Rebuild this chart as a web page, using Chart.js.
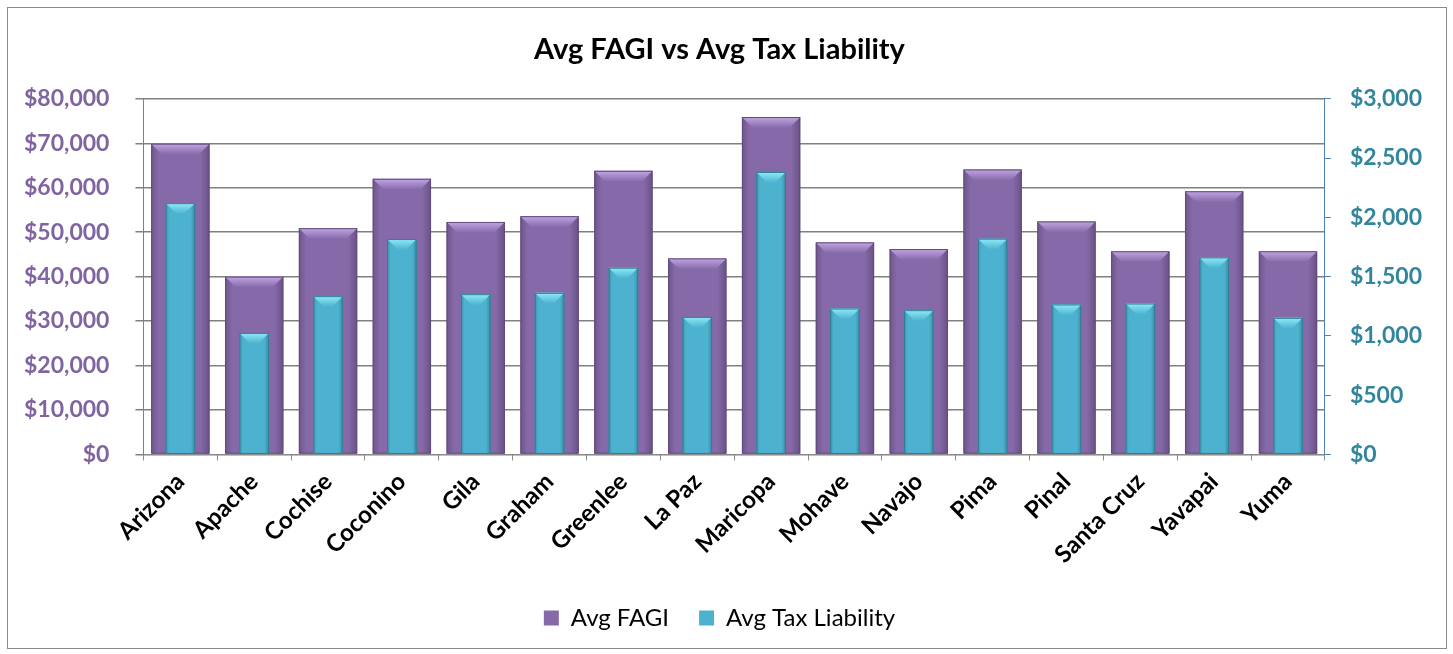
<!DOCTYPE html>
<html>
<head>
<meta charset="utf-8">
<script src="https://cdn.jsdelivr.net/npm/chart.js@4"></script>
<style>
    body { margin: 0; background: #fff; }
    #wrap { position: absolute; left: 7px; top: 7px; width: 1438px; height: 640px; border: 1px solid #8a8a8a; }
</style>
</head>
<body>
<div id="wrap"><canvas id="taxChart" width="1438" height="640"></canvas></div>
<script>
// counties (x axis)
const counties = ["Arizona", "Apache", "Cochise", "Coconino", "Gila", "Graham", "Greenlee", "La Paz",
    "Maricopa", "Mohave", "Navajo", "Pima", "Pinal", "Santa Cruz", "Yavapai", "Yuma"];
// left axis
const avgFagi = [69900, 40000, 50900, 62000, 52300, 53600, 63800, 44100,
    75900, 47700, 46200, 64100, 52400, 45700, 59200, 45700];
// right axis
const avgTax = [2120, 1025, 1335, 1817, 1352, 1363, 1575, 1160,
    2383, 1231, 1217, 1820, 1265, 1273, 1662, 1152];

const money = v => "$" + Number(v).toLocaleString("en-US");

// fake the excel bevel look on top of each bar
const bevelPlugin = {
    id: "bevel",
    afterDatasetDraw(chart, args) {
        let ctx = chart.ctx;
        let ds = chart.data.datasets[args.index];
        args.meta.data.forEach(bar => {
            let left = bar.x - bar.width / 2, right = bar.x + bar.width / 2;
            let top = bar.y, bottom = bar.base;
            let b = Math.min(11, bar.width * 0.38);
            ctx.save();
            // side shading
            let g = ctx.createLinearGradient(left, 0, right, 0);
            g.addColorStop(0, "rgba(0,0,0,0.18)");
            g.addColorStop(0.12, "rgba(0,0,0,0.0)");
            g.addColorStop(0.85, "rgba(0,0,0,0.0)");
            g.addColorStop(1, "rgba(0,0,0,0.22)");
            ctx.fillStyle = g;
            ctx.fillRect(left, top, right - left, bottom - top);
            // top bevel
            let tg = ctx.createLinearGradient(0, top, 0, top + b);
            tg.addColorStop(0, ds.bevelColor);
            tg.addColorStop(1, ds.backgroundColor);
            ctx.fillStyle = tg;
            ctx.beginPath();
            ctx.moveTo(left, top);
            ctx.lineTo(right, top);
            ctx.lineTo(right - b, top + b);
            ctx.lineTo(left + b, top + b);
            ctx.closePath();
            ctx.fill();
            ctx.strokeStyle = ds.edgeColor;
            ctx.lineWidth = 1;
            ctx.strokeRect(left + 0.5, top + 0.5, right - left - 1, bottom - top - 1);
            ctx.restore();
        });
    }
};

let ctx = document.getElementById("taxChart").getContext("2d");
new Chart(ctx, {
    type: "bar",
    data: {
        labels: counties,
        datasets: [
            {
                label: "Avg FAGI",
                data: avgFagi,
                yAxisID: "y",
                backgroundColor: "#8569a8",
                bevelColor: "#c2a6e4",
                edgeColor: "#5f4a7c",
                barPercentage: 0.79,
                categoryPercentage: 1,
                grouped: false,
                order: 2
            },
            {
                label: "Avg Tax Liability",
                data: avgTax,
                yAxisID: "y1",
                backgroundColor: "#4db2cf",
                bevelColor: "#8eeaf7",
                edgeColor: "#2f7f93",
                barPercentage: 0.4,
                categoryPercentage: 1,
                grouped: false,
                order: 1
            }
        ]
    },
    plugins: [bevelPlugin],
    options: {
        responsive: false,
        animation: false,
        layout: { padding: { left: -10, right: 5, top: 6, bottom: 8 } },
        plugins: {
            title: {
                display: true,
                text: "Avg FAGI vs Avg Tax Liability",
                color: "#000",
                font: { family: "Lato", size: 29, weight: "bold" },
                padding: { top: 18, bottom: 32 }
            },
            legend: {
                position: "bottom",
                labels: {
                    sort: (a, b) => a.datasetIndex - b.datasetIndex,
                    color: "#000",
                    boxWidth: 15,
                    boxHeight: 15,
                    padding: 30,
                    font: { family: "Lato", size: 24 }
                }
            },
            tooltip: { enabled: false }
        },
        scales: {
            x: {
                grid: { drawOnChartArea: false, drawTicks: true, tickLength: 6, color: "#8a8a8a", offset: true },
                border: { color: "#8a8a8a" },
                ticks: {
                    color: "#000",
                    maxRotation: 45,
                    minRotation: 45,
                    padding: 7,
                    font: { family: "Lato", size: 24, weight: "bold" }
                }
            },
            y: {
                position: "left",
                min: 0,
                max: 80000,
                grid: { color: "#808080", lineWidth: 1.5, tickLength: 8 },
                border: { color: "#808080" },
                ticks: {
                    stepSize: 10000,
                    color: "#8064a2",
                    padding: 26,
                    font: { family: "Lato", size: 23, weight: "bold" },
                    callback: v => money(v)
                }
            },
            y1: {
                position: "right",
                min: 0,
                max: 3000,
                grid: { drawOnChartArea: false, color: "#4f81bd", tickLength: 6 },
                border: { color: "#4f81bd" },
                ticks: {
                    stepSize: 500,
                    color: "#31859c",
                    padding: 19,
                    font: { family: "Lato", size: 23, weight: "bold" },
                    callback: v => money(v)
                }
            }
        }
    }
});
</script>
</body>
</html>
